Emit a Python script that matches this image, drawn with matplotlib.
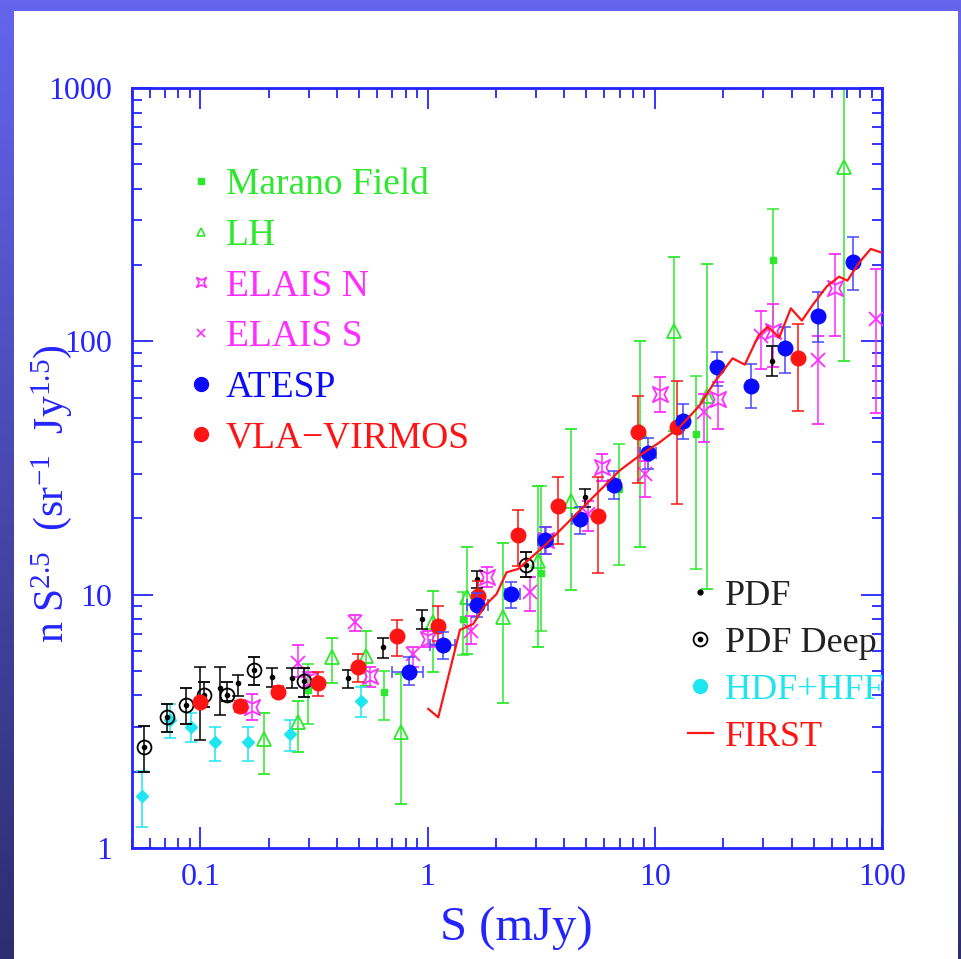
import numpy as np
import matplotlib
matplotlib.use('Agg')
import matplotlib.pyplot as plt
from matplotlib.lines import Line2D
from matplotlib.path import Path
from matplotlib.patches import Rectangle
from matplotlib.ticker import FixedLocator, FixedFormatter, LogLocator, NullFormatter

plt.rcParams['font.family'] = ['Liberation Serif', 'DejaVu Serif']
plt.rcParams['mathtext.fontset'] = 'custom'
plt.rcParams['mathtext.rm'] = 'Liberation Serif'
plt.rcParams['mathtext.it'] = 'Liberation Serif:italic'

# Source counts n S^2.5 against flux density S (mJy); lo/hi are error bar ends.
marano_s = [0.299, 0.644, 1.435, 3.17, 6.95, 15.2, 33.2]
marano_n = [4.22, 4.11, 8.02, 12.14, 26.1, 43.1, 209.6]
marano_lo = [3.09, 3.20, 5.80, 7.21, 13.14, 12.63, 96.2]
marano_hi = [5.32, 5.01, 10.21, 26.9, 39.4, 73.2, 333.2]

lh_s = [0.190, 0.269, 0.379, 0.536, 0.762, 1.059, 1.494, 2.15, 3.06, 4.26,
        8.57, 12.2, 17.03, 68.1]
lh_n = [2.69, 3.13, 5.65, 5.74, 2.86, 7.77, 9.76, 8.13, 13.62, 23.4,
        44.4, 110.2, 61.1, 489.5]
lh_lo = [1.96, 2.40, 4.47, 4.37, 1.49, 4.93, 5.83, 3.72, 6.19, 10.44,
         15.37, 44.4, 10.56, 83.9]
lh_hi = [3.40, 3.79, 6.72, 7.16, 4.86, 10.37, 15.37, 15.94, 26.9, 45.1,
         100.6, 216.0, 202.1, 1100.0]

elaisn_s = [0.169, 0.305, 0.556, 1.007, 1.818, 3.335, 5.85, 10.59, 19.05,
            33.3, 62.0]
elaisn_n = [3.59, 4.66, 4.79, 6.68, 11.70, 16.44, 31.8, 62.0, 59.3,
            110.2, 162.5]
elaisn_lo = [3.20, 4.35, 4.33, 6.19, 10.69, 14.47, 28.2, 52.4, 45.1,
             78.9, 105.3]
elaisn_hi = [4.06, 4.95, 5.16, 7.21, 12.82, 18.44, 35.9, 72.1, 68.9,
             140.5, 221.3]

elaiss_s = [0.270, 0.480, 0.866, 1.551, 2.817, 5.08, 9.04, 16.41, 29.3,
            52.5, 93.8]
elaiss_n = [5.37, 7.77, 5.83, 7.21, 10.21, 20.8, 29.96, 52.4, 105.3,
            84.4, 122.6]
elaiss_lo = [4.72, 7.21, 5.16, 6.39, 8.65, 17.89, 24.2, 39.9, 77.8,
             47.2, 52.2]
elaiss_hi = [6.35, 8.34, 6.23, 8.26, 11.70, 23.5, 33.8, 62.0, 132.2,
             105.3, 193.1]

atesp_s = [0.829, 1.172, 1.653, 2.34, 3.302, 4.67, 6.62, 9.38, 13.27,
           18.72, 26.5, 37.5, 52.5, 74.8]
atesp_slo = [0.696, 1.024, 1.485, 2.19, 3.06, 4.30, 6.20, 8.57, 12.6,
             18.0, 25.5, 36.0, 50.5, 72.0]
atesp_shi = [0.957, 1.319, 1.847, 2.546, 3.565, 4.995, 7.05, 10.14, 13.9,
             19.5, 27.5, 39.0, 54.5, 77.5]
atesp_n = [4.97, 6.33, 9.11, 10.06, 16.44, 19.9, 27.1, 36.3, 48.6, 78.9,
           66.9, 93.8, 125.5, 205.1]
atesp_lo = [4.41, 5.57, 8.13, 8.86, 14.47, 17.36, 23.9, 31.4, 41.2, 66.9,
            54.4, 74.8, 99.1, 160.0]
atesp_hi = [5.65, 7.10, 10.12, 11.26, 18.44, 22.26, 30.9, 41.6, 56.6,
            91.1, 81.4, 114.3, 157.1, 257.4]

vla_s = [0.0994, 0.150, 0.220, 0.329, 0.496, 0.736, 1.114, 1.670, 2.502,
         3.75, 5.62, 8.42, 12.54, 42.8]
vla_n = [3.76, 3.62, 4.14, 4.47, 5.16, 6.89, 7.50, 9.90, 17.21, 22.46,
         20.5, 44.0, 46.0, 85.7]
vla_lo = [3.62, 3.43, 3.93, 3.99, 4.51, 5.74, 6.58, 8.90, 13.02, 15.86,
          12.14, 27.7, 22.9, 52.9]
vla_hi = [3.90, 3.79, 4.37, 4.93, 5.83, 7.95, 9.05, 11.30, 21.5, 29.05,
          29.05, 61.1, 69.5, 117.1]

pdf_s = [0.0994, 0.1217, 0.146, 0.2067, 0.253, 0.4457, 0.635, 0.942,
         1.643, 4.91, 32.8]
pdf_n = [3.82, 4.27, 4.47, 4.74, 4.69, 4.67, 6.21, 8.02, 11.53, 24.2, 83.9]
pdf_lo = [2.67, 3.36, 3.99, 4.31, 4.27, 4.27, 5.63, 7.32, 10.66, 22.1, 73.2]
pdf_hi = [5.16, 5.16, 4.83, 5.12, 5.13, 5.06, 6.75, 8.70, 12.44, 26.2, 96.2]

deep_s = [0.0564, 0.0715, 0.086, 0.1042, 0.1311, 0.1729, 0.2844, 2.724]
deep_n = [2.495, 3.30, 3.68, 4.02, 4.02, 5.06, 4.58, 13.10]
deep_lo = [2.00, 2.86, 3.09, 3.61, 3.79, 4.41, 3.96, 11.70]
deep_hi = [3.02, 3.70, 4.27, 4.53, 4.53, 5.69, 5.15, 14.78]

hdf_s = [0.0555, 0.0734, 0.0911, 0.1165, 0.1615, 0.2487, 0.510]
hdf_n = [1.61, 3.21, 3.01, 2.61, 2.61, 2.82, 3.82]
hdf_lo = [1.21, 2.72, 2.61, 2.20, 2.21, 2.41, 3.30]
hdf_hi = [2.01, 3.70, 3.40, 3.01, 3.01, 3.20, 4.33]

first_s = [1.007, 1.114, 1.388, 1.588, 1.787, 2.012, 2.226, 2.502, 2.865,
           3.335, 3.815, 4.295, 4.996, 5.91, 7.00, 8.57, 10.49, 12.84,
           15.72, 18.29, 22.0, 24.9, 28.6, 31.4, 35.3, 39.7, 44.4, 49.9,
           57.2, 64.7, 70.4, 79.3, 89.2, 98.7]
first_n = [3.54, 3.28, 7.26, 7.66, 9.05, 10.06, 12.25, 12.63, 14.04, 15.86,
           17.89, 19.90, 22.81, 26.5, 30.9, 35.4, 39.9, 45.8, 55.7, 68.9,
           85.7, 80.9, 105.3, 114.3, 103.7, 135.0, 120.7, 140.5, 164.9,
           180.0, 173.6, 204.5, 231.6, 224.6]

x_ticks = [0.1, 1, 10, 100]
x_labels = ['0.1', '1', '10', '100']
y_ticks = [1, 10, 100, 1000]
y_labels = ['1', '10', '100', '1000']

green = '#2ee82e'
magenta = '#ff2eff'
blue = '#0a0aff'
red = '#ff1414'
cyan = '#1ee6f0'
axcol = '#2424ff'

# concave square used for ELAIS N
star = Path([(-1, -1), (0, -0.5), (1, -1), (0.5, 0), (1, 1), (0, 0.5),
             (-1, 1), (-0.5, 0), (-1, -1)], closed=True)


def bars(ax, s, n, lo, hi, ecol, z, **kw):
    n = np.array(n)
    yerr = [n - np.array(lo), np.array(hi) - n]
    ax.errorbar(s, n, yerr=yerr, ls='none', ecolor=ecol, elinewidth=1.1,
                capsize=4, capthick=1.1, zorder=z, **kw)


fig = plt.figure(figsize=(9.62, 9.59), dpi=100)

# blue frame behind the white page
bg = fig.add_axes([0, 0, 1, 1], zorder=-10)
grad = np.linspace(0, 1, 256)[:, None]
top = np.array([100, 100, 238]) / 255.
bot = np.array([45, 45, 112]) / 255.
img = top[None, None, :] * (1 - grad[:, :, None]) + bot[None, None, :] * grad[:, :, None]
bg.imshow(img, aspect='auto', extent=[0, 1, 0, 1])
bg.add_patch(Rectangle((14 / 962, 0), (958 - 14) / 962, (959 - 11) / 959,
                       facecolor='white', edgecolor='none'))
bg.set_xlim(0, 1)
bg.set_ylim(0, 1)
bg.axis('off')

ax = fig.add_axes([132 / 962, 111 / 959, 750 / 962, 760 / 959])
ax.set_xscale('log')
ax.set_yscale('log')
ax.set_xlim(0.05, 100)
ax.set_ylim(1, 1000)

bars(ax, lh_s, lh_n, lh_lo, lh_hi, green, 2, marker='^', ms=10,
     mfc='none', mec=green, mew=1.3)
bars(ax, marano_s, marano_n, marano_lo, marano_hi, green, 2, marker='s',
     ms=5, color=green)
bars(ax, elaisn_s, elaisn_n, elaisn_lo, elaisn_hi, magenta, 3, marker=star,
     ms=11, mfc='none', mec=magenta, mew=1.3)
bars(ax, elaiss_s, elaiss_n, elaiss_lo, elaiss_hi, magenta, 3, marker='x',
     ms=10, mec=magenta, mew=1.3)
bars(ax, hdf_s, hdf_n, hdf_lo, hdf_hi, cyan, 3, marker='D', ms=6.5,
     color=cyan)
bars(ax, pdf_s, pdf_n, pdf_lo, pdf_hi, 'black', 4, marker='o', ms=3,
     color='black')
bars(ax, deep_s, deep_n, deep_lo, deep_hi, 'black', 4, marker='o', ms=10,
     mfc='none', mec='black', mew=1.3)
ax.plot(deep_s, deep_n, 'o', ms=3, color='black', zorder=4)
bars(ax, vla_s, vla_n, vla_lo, vla_hi, red, 5, marker='o', ms=10.5,
     color=red)
atesp_n_arr = np.array(atesp_n)
atesp_s_arr = np.array(atesp_s)
ax.errorbar(atesp_s, atesp_n,
            xerr=[atesp_s_arr - np.array(atesp_slo), np.array(atesp_shi) - atesp_s_arr],
            yerr=[atesp_n_arr - np.array(atesp_lo), np.array(atesp_hi) - atesp_n_arr],
            ls='none', marker='o', ms=10.5, color=blue, ecolor='#4848ff',
            elinewidth=1.1, capsize=4, capthick=1.1, zorder=6)
ax.plot(first_s, first_n, '-', color=red, lw=1.6, zorder=7)

# axes styling
for sp in ax.spines.values():
    sp.set_color(axcol)
    sp.set_linewidth(2)
ax.xaxis.set_major_locator(FixedLocator(x_ticks))
ax.xaxis.set_major_formatter(FixedFormatter(x_labels))
ax.yaxis.set_major_locator(FixedLocator(y_ticks))
ax.yaxis.set_major_formatter(FixedFormatter(y_labels))
ax.xaxis.set_minor_locator(LogLocator(base=10, subs=np.arange(2, 10), numticks=20))
ax.yaxis.set_minor_locator(LogLocator(base=10, subs=np.arange(2, 10), numticks=20))
ax.xaxis.set_minor_formatter(NullFormatter())
ax.yaxis.set_minor_formatter(NullFormatter())
ax.tick_params(which='both', direction='in', top=True, right=True,
               color=axcol, labelcolor=axcol, width=1.3, labelsize=23)
ax.tick_params(which='major', length=15)
ax.tick_params(which='minor', length=7.5)
ax.tick_params(axis='x', pad=11)
ax.tick_params(axis='y', pad=14)

ax.set_xlabel('S (mJy)', fontsize=35, color=axcol)
ax.xaxis.set_label_coords(0.512, -0.077)
ax.set_ylabel(r'n $\mathrm{S}^{2.5}$  (sr$^{-1}$  Jy$^{1.5}$)', fontsize=30,
              color=axcol)
ax.yaxis.set_label_coords(-0.078, 0.466)

# legends
h1 = [Line2D([], [], ls='none', marker='s', ms=4, color=green),
      Line2D([], [], ls='none', marker='^', ms=6, mfc='none', mec=green, mew=1.2),
      Line2D([], [], ls='none', marker=star, ms=7, mfc='none', mec=magenta, mew=1.2),
      Line2D([], [], ls='none', marker='x', ms=6, mec=magenta, mew=1.2),
      Line2D([], [], ls='none', marker='o', ms=10, color=blue),
      Line2D([], [], ls='none', marker='o', ms=10, color=red)]
l1 = ['Marano Field', 'LH', 'ELAIS N', 'ELAIS S', 'ATESP', 'VLA\u2212VIRMOS']
leg1 = ax.legend(h1, l1, loc='upper left', bbox_to_anchor=(0.074, 0.895),
                 frameon=False, fontsize=27, handlelength=0.7,
                 handletextpad=0.33, labelspacing=0.43, borderpad=0,
                 borderaxespad=0,
                 labelcolor=[green, green, magenta, magenta, blue, red])
ax.add_artist(leg1)

h2 = [Line2D([], [], ls='none', marker='o', ms=3.5, color='black'),
      (Line2D([], [], ls='none', marker='o', ms=10, mfc='none', mec='black', mew=1.3),
       Line2D([], [], ls='none', marker='o', ms=3, color='black')),
      Line2D([], [], ls='none', marker='o', ms=10, color=cyan),
      Line2D([], [], ls='-', lw=1.6, color=red)]
l2 = ['PDF', 'PDF Deep', 'HDF+HFF', 'FIRST']
ax.legend(h2, l2, loc='upper left', bbox_to_anchor=(0.7407, 0.353),
          frameon=False, fontsize=26, handlelength=0.7, handletextpad=0.35,
          labelspacing=0.38, borderpad=0, borderaxespad=0,
          labelcolor=['#222222', '#222222', cyan, red])

fig.savefig('out.png', dpi=100)
